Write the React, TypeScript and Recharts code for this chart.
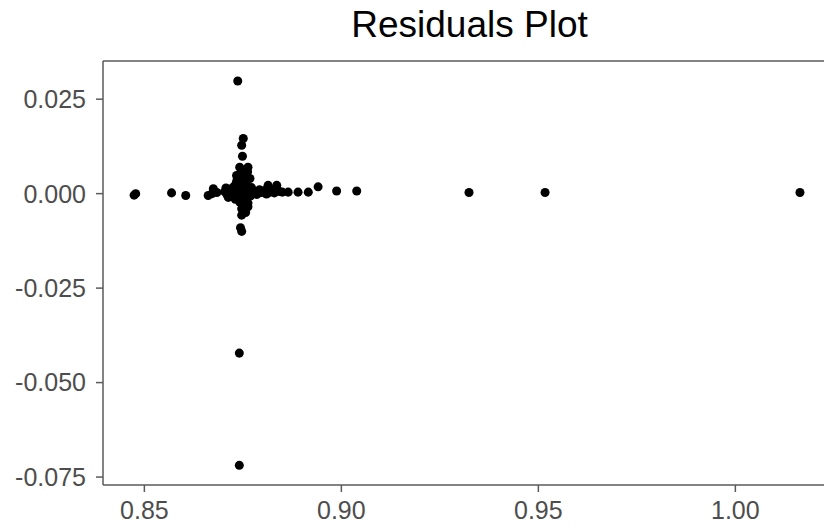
import { ReferenceLine, Scatter, ScatterChart, XAxis, YAxis } from "recharts"

// fitted values (x) and residuals (y)
const fitted = [
  0.8474, 0.8478, 0.8569, 0.8605, 0.8662, 0.8672, 0.8675, 0.8684,
  0.8704, 0.8710, 0.8716, 0.8720, 0.8725, 0.8728, 0.8731, 0.8734, 0.8736, 0.8738,
  0.8740, 0.8741, 0.8742, 0.8743, 0.8744, 0.8745, 0.8746, 0.8747, 0.8748, 0.8749,
  0.8750, 0.8751, 0.8752, 0.8754, 0.8755, 0.8757, 0.8758, 0.8760, 0.8762, 0.8763,
  0.8765, 0.8768, 0.8770, 0.8772, 0.8775, 0.8707, 0.8713, 0.8758,
  0.8780, 0.8786, 0.8792, 0.8798, 0.8804, 0.8810, 0.8814, 0.8820, 0.8826, 0.8830,
  0.8836, 0.8842, 0.8850, 0.8865, 0.8890, 0.8916, 0.8941, 0.8988, 0.9039,
  0.9324, 0.9517, 1.0164,
  0.8751, 0.8747, 0.8749, 0.8742, 0.8763, 0.8734, 0.8737,
  0.8747, 0.8763, 0.8747, 0.8757, 0.8747, 0.8744,
  0.8741, 0.8741,
]
const residuals = [
  -0.0004, 0.0000, 0.0002, -0.0005, -0.0005, 0.0000, 0.0013, 0.0003,
  0.0005, -0.0003, 0.0012, -0.0008, 0.0002, 0.0020, -0.0015, 0.0032, 0.0008, -0.0005,
  0.0045, 0.0015, -0.0022, 0.0026, 0.0001, 0.0055, -0.0010, 0.0038, 0.0010, -0.0030,
  0.0062, 0.0021, -0.0004, 0.0048, 0.0013, -0.0018, 0.0030, 0.0003, 0.0058, -0.0025,
  0.0009, 0.0040, -0.0006, 0.0016, 0.0002, 0.0015, -0.0010, -0.0032,
  0.0006, -0.0002, 0.0010, 0.0003, 0.0008, -0.0001, 0.0022, 0.0004, 0.0010, 0.0002,
  0.0022, 0.0006, 0.0004, 0.0004, 0.0004, 0.0004, 0.0018, 0.0007, 0.0007,
  0.0003, 0.0003, 0.0003,
  0.0146, 0.0128, 0.0099, 0.0070, 0.0070, 0.0048, 0.0298,
  -0.0040, -0.0035, -0.0057, -0.0050, -0.0100, -0.0090,
  -0.0422, -0.0719,
]
const xTicks = [0.85, 0.9, 0.95, 1.0]
const yTicks = [-0.075, -0.05, -0.025, 0, 0.025]

const X_MIN = 0.8395
const X_MAX = 1.0225
const Y_MIN = -0.0771
const Y_MAX = 0.0351

const points = fitted.map((x, i) => ({ x, y: residuals[i] }))

const FONT = '"Liberation Sans", Arial, sans-serif'
const AXIS = "#5a5a5a"
const tickStyle = { fontSize: 25, fill: "#4d4d4d", fontFamily: FONT }

export default function App() {
  return (
    <div style={{ position: "relative", width: 824, height: 528, background: "#fff" }}>
      <style>{"body{margin:0}"}</style>
      <div
        style={{
          position: "absolute",
          left: 103,
          width: 733,
          top: 6,
          textAlign: "center",
          fontFamily: FONT,
          fontSize: 37,
          lineHeight: 1,
          color: "#000",
        }}
      >
        Residuals Plot
      </div>
      <ScatterChart width={824} height={528} margin={{ top: 61, right: 0, bottom: 0, left: 0 }}>
        <XAxis
          type="number"
          dataKey="x"
          domain={[X_MIN, X_MAX]}
          allowDataOverflow
          ticks={xTicks}
          tickFormatter={(v: number) => v.toFixed(2)}
          height={43}
          tickSize={7}
          tickMargin={9}
          stroke={AXIS}
          strokeWidth={1.5}
          tick={tickStyle}
        />
        <YAxis
          type="number"
          dataKey="y"
          domain={[Y_MIN, Y_MAX]}
          allowDataOverflow
          ticks={yTicks}
          tickFormatter={(v: number) => v.toFixed(3)}
          width={103}
          tickSize={7}
          tickMargin={10}
          stroke={AXIS}
          strokeWidth={1.5}
          tick={tickStyle}
        />
        <ReferenceLine y={Y_MAX} stroke={AXIS} strokeWidth={1.5} />
        <Scatter data={points} fill="#000" isAnimationActive={false} />
      </ScatterChart>
    </div>
  )
}
